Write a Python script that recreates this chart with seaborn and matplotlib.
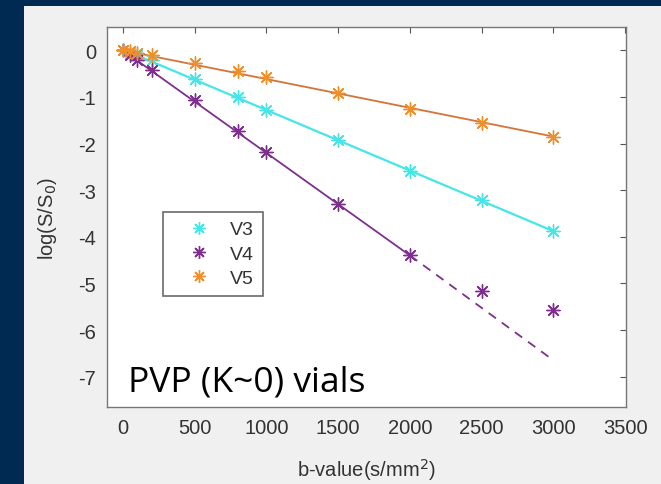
import matplotlib
matplotlib.use('Agg')
import matplotlib.pyplot as plt
from matplotlib.lines import Line2D
from matplotlib.patches import Rectangle
import seaborn as sns

# b-values (s/mm^2) and measured log(S/S0) for each vial
b_values = [0, 50, 100, 200, 500, 800, 1000, 1500, 2000, 2500, 3000]
v3 = [0, -0.05, -0.1, -0.2, -0.62, -1.0, -1.28, -1.92, -2.58, -3.22, -3.88]
v4 = [0, -0.1, -0.2, -0.42, -1.06, -1.72, -2.18, -3.3, -4.4, -5.17, -5.56]
v5 = [0, -0.02, -0.05, -0.1, -0.28, -0.45, -0.58, -0.92, -1.25, -1.55, -1.85]

# fitted lines (end points)
fit_b = [0, 3000]
v3_fit = [0.02, -3.88]
v5_fit = [0.0, -1.85]
v4_fit_b = [0, 2000]
v4_fit = [0.0, -4.4]
v4_ext_b = [2000, 3000]
v4_ext = [-4.4, -6.65]

labels = ['V3', 'V4', 'V5']
x_ticks = [0, 500, 1000, 1500, 2000, 2500, 3000, 3500]
y_ticks = [0, -1, -2, -3, -4, -5, -6, -7]

cyan = '#45e6e8'
purple = '#7e2f8e'
orange_line = '#d4733a'
orange_mark = '#ee8f2c'
navy = '#002a52'
panel = '#f0f0f0'
asterisk = (8, 2, 0)

sns.set_style('white')
plt.rcParams['font.family'] = ['Liberation Sans', 'DejaVu Sans']
plt.rcParams['axes.unicode_minus'] = False

fig = plt.figure(figsize=(6.61, 4.85), dpi=100, facecolor=navy)
fig.patches.append(Rectangle((24 / 661, 0), 1, 1 - 7 / 485, transform=fig.transFigure,
                             facecolor=panel, edgecolor='none', zorder=-10))
ax = fig.add_axes([107 / 661, 1 - 408 / 485, 519 / 661, 380 / 485])
ax.set_facecolor('white')

# fit lines
sns.lineplot(x=fit_b, y=v5_fit, ax=ax, color=orange_line, lw=1.3)
sns.lineplot(x=fit_b, y=v3_fit, ax=ax, color=cyan, lw=1.6)
sns.lineplot(x=v4_fit_b, y=v4_fit, ax=ax, color=purple, lw=1.3)
ax.plot(v4_ext_b, v4_ext, color=purple, lw=1.3, ls=(0, (5, 4)))

# measured points
for vals, c in [(v3, cyan), (v4, purple), (v5, orange_mark)]:
    sns.scatterplot(x=b_values, y=vals, ax=ax, marker=asterisk, s=90,
                    color=c, edgecolor=c, linewidth=1.0, zorder=3)

ax.set_xlim(-110, 3505)
ax.set_ylim(-7.65, 0.5)
ax.set_xticks(x_ticks)
ax.set_yticks(y_ticks)
ax.tick_params(direction='in', length=4, width=0.8, top=True, right=True,
               labeltop=False, labelright=False, colors='#555555',
               labelcolor='#333333', labelsize=14.5, pad=8)
for s in ax.spines.values():
    s.set_color('#777777')
    s.set_linewidth(1.0)

ax.set_xlabel('b-value(s/mm$^2$)', fontsize=14.5, color='#333333', labelpad=14)
ax.set_ylabel('log(S/S$_0$)', fontsize=14.5, color='#333333', labelpad=14)

handles = [Line2D([], [], ls='', marker=asterisk, color=c, markersize=9, mew=1.0)
           for c in [cyan, purple, orange_mark]]
leg = ax.legend(handles, labels, loc='upper left', bbox_to_anchor=(0.108, 0.513),
                borderaxespad=0, frameon=True, fancybox=False, fontsize=14,
                handlelength=2.8, handletextpad=0.2, labelspacing=0.35,
                borderpad=0.45)
leg.get_frame().set_edgecolor('#444444')
leg.get_frame().set_linewidth(1.2)
for t in leg.get_texts():
    t.set_color('#333333')

ax.text(35, -7.3, 'PVP (K~0) vials', fontsize=25.5, color='black',
        family=['Open Sans', 'DejaVu Sans'], va='baseline', ha='left')

fig.savefig('out.png', dpi=100, facecolor=navy)
